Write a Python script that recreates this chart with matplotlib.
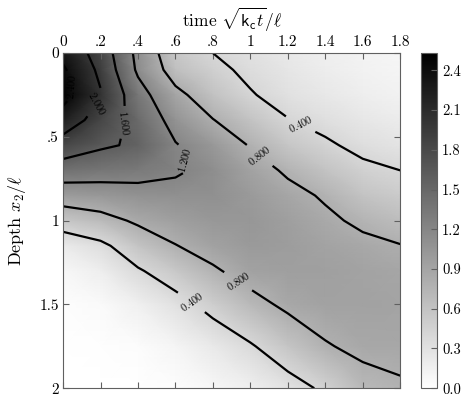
import numpy as np
import matplotlib.pyplot as plt

plt.rcParams['font.family'] = 'serif'
plt.rcParams['font.serif'] = ['cmr10']
plt.rcParams['mathtext.fontset'] = 'cm'
plt.rcParams['axes.formatter.use_mathtext'] = True

# time sqrt(k_c t)/l (columns) and depth x2/l (rows)
time = [0.0, 0.2, 0.4, 0.6, 0.8, 1.0, 1.2, 1.4, 1.6, 1.8]
depth = [0.0, 0.1, 0.25, 0.4, 0.55, 0.7, 0.85, 1.0, 1.15, 1.3, 1.5, 1.75, 2.0]

# concentration field, one row per depth
conc = np.array([
    [2.30, 1.84, 1.10, 0.55, 0.40, 0.30, 0.22, 0.16, 0.12, 0.09],
    [2.45, 1.92, 1.14, 0.64, 0.47, 0.34, 0.25, 0.18, 0.13, 0.10],
    [2.53, 2.03, 1.35, 0.89, 0.61, 0.42, 0.30, 0.23, 0.17, 0.13],
    [2.23, 1.83, 1.48, 1.07, 0.81, 0.60, 0.41, 0.32, 0.24, 0.19],
    [1.83, 1.65, 1.55, 1.22, 1.02, 0.78, 0.57, 0.44, 0.33, 0.27],
    [1.41, 1.36, 1.32, 1.24, 1.12, 0.92, 0.76, 0.60, 0.46, 0.40],
    [0.98, 1.02, 1.08, 1.10, 1.10, 1.00, 0.88, 0.77, 0.60, 0.52],
    [0.56, 0.68, 0.85, 0.95, 1.02, 1.03, 0.95, 0.85, 0.75, 0.66],
    [0.20, 0.33, 0.59, 0.79, 0.92, 1.00, 0.97, 0.91, 0.86, 0.81],
    [0.08, 0.17, 0.37, 0.55, 0.76, 0.92, 0.95, 0.94, 0.91, 0.88],
    [0.02, 0.05, 0.15, 0.30, 0.49, 0.70, 0.86, 0.92, 0.92, 0.90],
    [0.00, 0.01, 0.03, 0.10, 0.22, 0.37, 0.58, 0.78, 0.86, 0.87],
    [0.00, 0.00, 0.00, 0.02, 0.08, 0.15, 0.28, 0.45, 0.70, 0.77],
])

levels = [0.4, 0.8, 1.2, 1.6, 2.0, 2.4]
label_spots = [(1.27, 0.42), (1.05, 0.61), (0.93, 1.37), (0.69, 1.48),
               (0.67, 0.63), (0.35, 0.42), (0.21, 0.32), (0.05, 0.20)]

xticks = [0, 0.2, 0.4, 0.6, 0.8, 1.0, 1.2, 1.4, 1.6, 1.8]
xticklabels = ['0', '.2', '.4', '.6', '.8', '1', '1.2', '1.4', '1.6', '1.8']
yticks = [0, 0.5, 1.0, 1.5, 2.0]
yticklabels = ['0', '.5', '1', '1.5', '2']
cbticks = [0.0, 0.3, 0.6, 0.9, 1.2, 1.5, 1.8, 2.1, 2.4]

edge = '#606060'

fig = plt.figure(figsize=(4.67, 3.99), dpi=100)
ax = fig.add_axes([0.135, 0.027, 0.722, 0.840])
cax = fig.add_axes([0.901, 0.027, 0.0355, 0.840])

T, D = np.meshgrid(time, depth)
mesh = ax.pcolormesh(T, D, conc, shading='gouraud', cmap='gray_r',
                     vmin=0.0, vmax=conc.max(), rasterized=True)
cs = ax.contour(T, D, conc, levels=levels, colors='k', linewidths=1.6)
ax.clabel(cs, fmt=lambda v: r'$\mathit{%.3f}$' % v, fontsize=7.5,
          inline=True, inline_spacing=4, manual=label_spots)

ax.set_xlim(0, 1.8)
ax.set_ylim(2, 0)
ax.xaxis.tick_top()
ax.xaxis.set_label_position('top')
ax.set_xticks(xticks)
ax.set_xticklabels(xticklabels)
ax.set_yticks(yticks)
ax.set_yticklabels(yticklabels)
ax.tick_params(direction='in', top=True, bottom=True, left=True, right=True,
               length=4, width=0.8, color=edge, labelsize=11, pad=3)
for s in ax.spines.values():
    s.set_color(edge)
ax.set_xlabel(r'time $\sqrt{\mathsf{k}_{\mathsf{c}}t}/\ell$', fontsize=12.5, labelpad=6)
ax.set_ylabel(r'Depth $x_2/\ell$', fontsize=13, labelpad=8)

cb = fig.colorbar(mesh, cax=cax, ticks=cbticks)
cb.ax.set_yticklabels(['%.1f' % t for t in cbticks])
cb.ax.tick_params(direction='in', length=4, width=0.8, color=edge, labelsize=10.5)
cb.outline.set_edgecolor(edge)

fig.savefig('out.png', dpi=100)
